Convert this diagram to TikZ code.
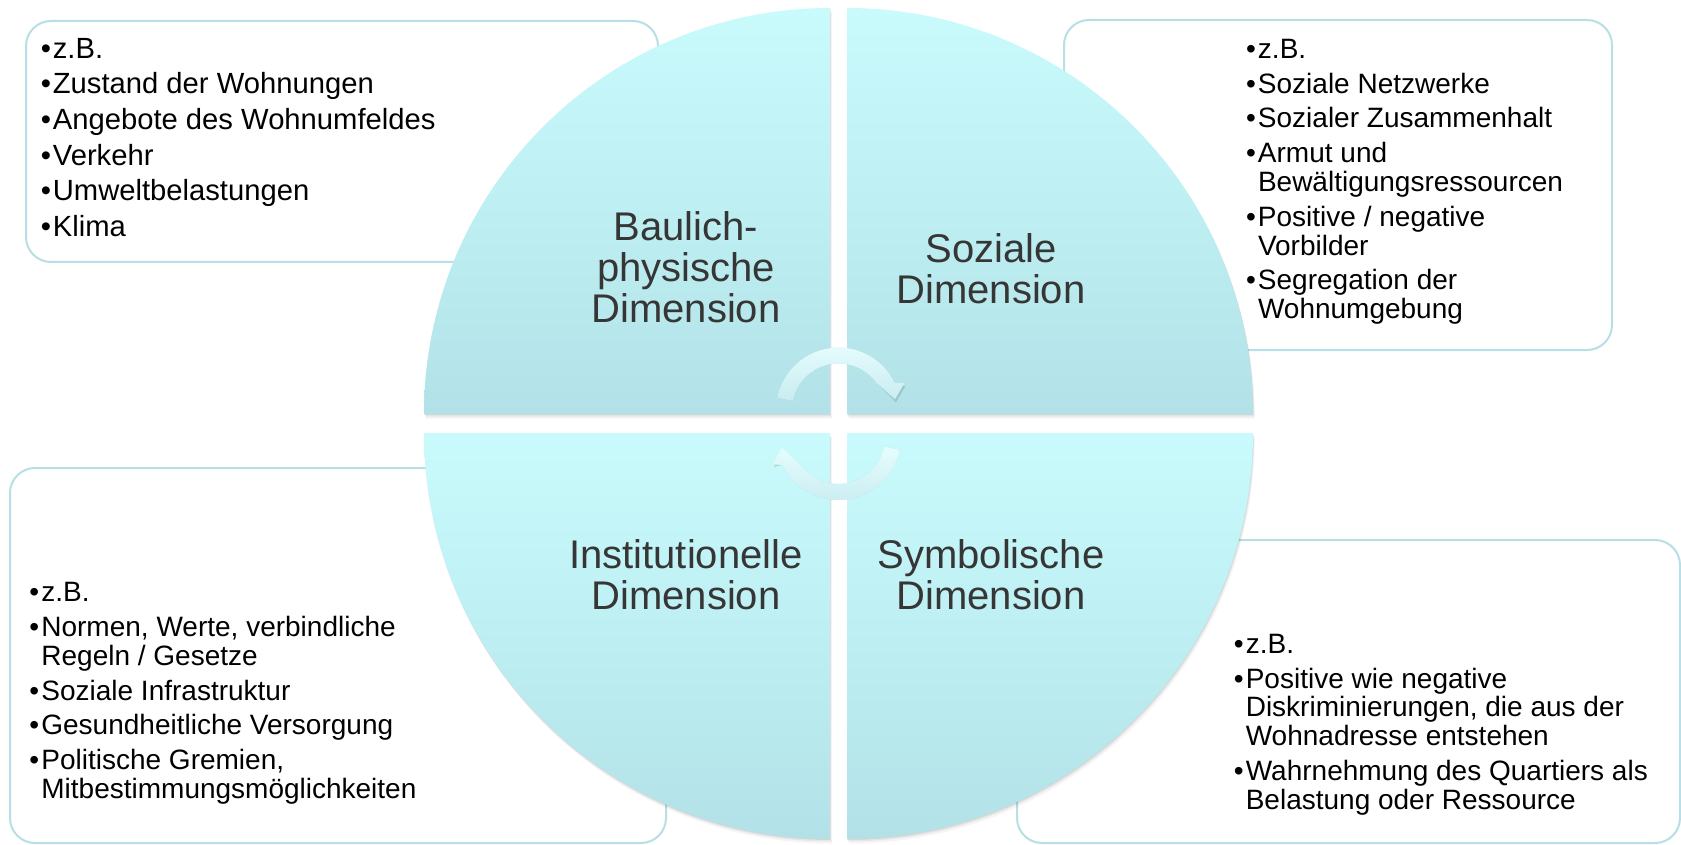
\documentclass[tikz,border=0pt]{standalone}
\usepackage{fontspec}
\setmainfont{Liberation Sans}
\usetikzlibrary{calc}

\definecolor{qtop}{HTML}{C9FBFD}
\definecolor{qbot}{HTML}{B2E2E7}
\definecolor{atop}{HTML}{E6FDFE}
\definecolor{abot}{HTML}{C9ECF0}
\definecolor{boxline}{HTML}{B8DFE5}
\definecolor{labeltext}{HTML}{363636}

\tikzset{
  infobox/.style={draw=boxline, line width=1pt, fill=white, rounded corners=12.5pt},
  quadrant/.style={top color=qtop, bottom color=qbot},
  cyclearrow/.style={top color=atop, bottom color=abot},
  dimlabel/.style={text width=170pt, align=center, anchor=base, inner sep=0pt,
    text=labeltext, font=\fontsize{20}{20.5}\selectfont},
  bullets/.style={anchor=base west, inner sep=0pt, font=\fontsize{14}{14.2}\selectfont},
  bulletsbig/.style={bullets, font=\fontsize{14.6}{17.8}\selectfont},
}

% bullet cell of a list row
\newcommand\bx{\makebox[6pt][l]{\textbullet}}

% the four quarter discs (pixel coordinates, y downwards)
\newcommand\quadTL[1]{\path[#1] (830,414) -- (424,414) arc[start angle=180, end angle=270, radius=406] -- cycle;}
\newcommand\quadTR[1]{\path[#1] (847,414) -- (847,8) arc[start angle=270, end angle=360, radius=406] -- cycle;}
\newcommand\quadBR[1]{\path[#1] (847,433) -- (1253,433) arc[start angle=0, end angle=90, radius=406] -- cycle;}
\newcommand\quadBL[1]{\path[#1] (830,433) -- (830,839) arc[start angle=90, end angle=180, radius=406] -- cycle;}

% the two curved cycle arrows
\newcommand\arrowUp[1]{\path[#1] ($(uc)+(191.3:62.5)$) arc[start angle=191.3, end angle=333.9, radius=62.5]
  -- (904.3,383.3) -- (895,399.3) -- ($(uc)+(323.6:46.5)$)
  arc[start angle=323.6, end angle=191.3, radius=46.5] -- cycle;}
\newcommand\arrowDown[1]{\path[#1] ($(lc)+(11.3:62.5)$) arc[start angle=11.3, end angle=153.9, radius=62.5]
  -- (772.7,464.2) -- (782,448.2) -- ($(lc)+(143.6:46.5)$)
  arc[start angle=143.6, end angle=11.3, radius=46.5] -- cycle;}

\begin{document}
\begin{tikzpicture}[x=0.5pt, y=-0.5pt]
  \useasboundingbox (0,0) rectangle (1681,845);
  \fill[white] (0,0) rectangle (1681,845);

  % text boxes behind the circle
  \path[infobox] (26,21) rectangle (658,262);
  \path[infobox] (1064,20) rectangle (1612,350);
  \path[infobox] (10,468) rectangle (666,843);
  \path[infobox] (1017,540) rectangle (1680,843);

  % soft shadows of the quarter discs
  \foreach \d/\op in {1/0.07, 2.5/0.06, 4.5/0.04} {
    \begin{scope}[shift={(0.4*\d,\d)}]
      \quadTL{fill=black, opacity=\op}
      \quadTR{fill=black, opacity=\op}
      \quadBR{fill=black, opacity=\op}
      \quadBL{fill=black, opacity=\op}
    \end{scope}
  }

  % quarter discs
  \quadTL{quadrant}
  \quadTR{quadrant}
  \quadBR{quadrant}
  \quadBL{quadrant}

  % cycle arrows with faint shadows
  \coordinate (uc) at (838.5,410);
  \coordinate (lc) at (838.5,437.5);
  \begin{scope}[shift={(1,3)}]
    \arrowUp{fill=black, opacity=0.12}
    \arrowDown{fill=black, opacity=0.12}
  \end{scope}
  \arrowUp{cyclearrow}
  \arrowDown{cyclearrow}

  % dimension labels
  \node[dimlabel] (lblBau) at (686,241) {Baulich-\\physische\\Dimension};
  \node[dimlabel] (lblSoz) at (991,262.7) {Soziale\\Dimension};
  \node[dimlabel] (lblInst) at (686,568) {Institutionelle\\Dimension};
  \node[dimlabel] (lblSym) at (991,568) {Symbolische\\Dimension};

  % example lists
  \node[bulletsbig] (txtTL) at (40.5,58.3) {%
    \begin{tabular}[t]{@{}l@{}l@{}}
      \bx & z.B.\\
      \bx & Zustand der Wohnungen\\
      \bx & Angebote des Wohnumfeldes\\
      \bx & Verkehr\\
      \bx & Umweltbelastungen\\
      \bx & Klima
    \end{tabular}};

  \node[bullets] (txtTR) at (1245.6,58.3) {%
    \begin{tabular}[t]{@{}l@{}l@{}}
      \bx & z.B.\\[3pt]
      \bx & Soziale Netzwerke\\[3pt]
      \bx & Sozialer Zusammenhalt\\[3pt]
      \bx & Armut und\\
          & Bewältigungsressourcen\\[3pt]
      \bx & Positive / negative\\
          & Vorbilder\\[3pt]
      \bx & Segregation der\\
          & Wohnumgebung
    \end{tabular}};

  \node[bullets] (txtBL) at (29,601.7) {%
    \begin{tabular}[t]{@{}l@{}l@{}}
      \bx & z.B.\\[3pt]
      \bx & Normen, Werte, verbindliche\\
          & Regeln / Gesetze\\[3pt]
      \bx & Soziale Infrastruktur\\[3pt]
      \bx & Gesundheitliche Versorgung\\[3pt]
      \bx & Politische Gremien,\\
          & Mitbestimmungsmöglichkeiten
    \end{tabular}};

  \node[bullets] (txtBR) at (1233.4,653.3) {%
    \begin{tabular}[t]{@{}l@{}l@{}}
      \bx & z.B.\\[3pt]
      \bx & Positive wie negative\\
          & Diskriminierungen, die aus der\\
          & Wohnadresse entstehen\\[3pt]
      \bx & Wahrnehmung des Quartiers als\\
          & Belastung oder Ressource
    \end{tabular}};
\end{tikzpicture}
\end{document}
